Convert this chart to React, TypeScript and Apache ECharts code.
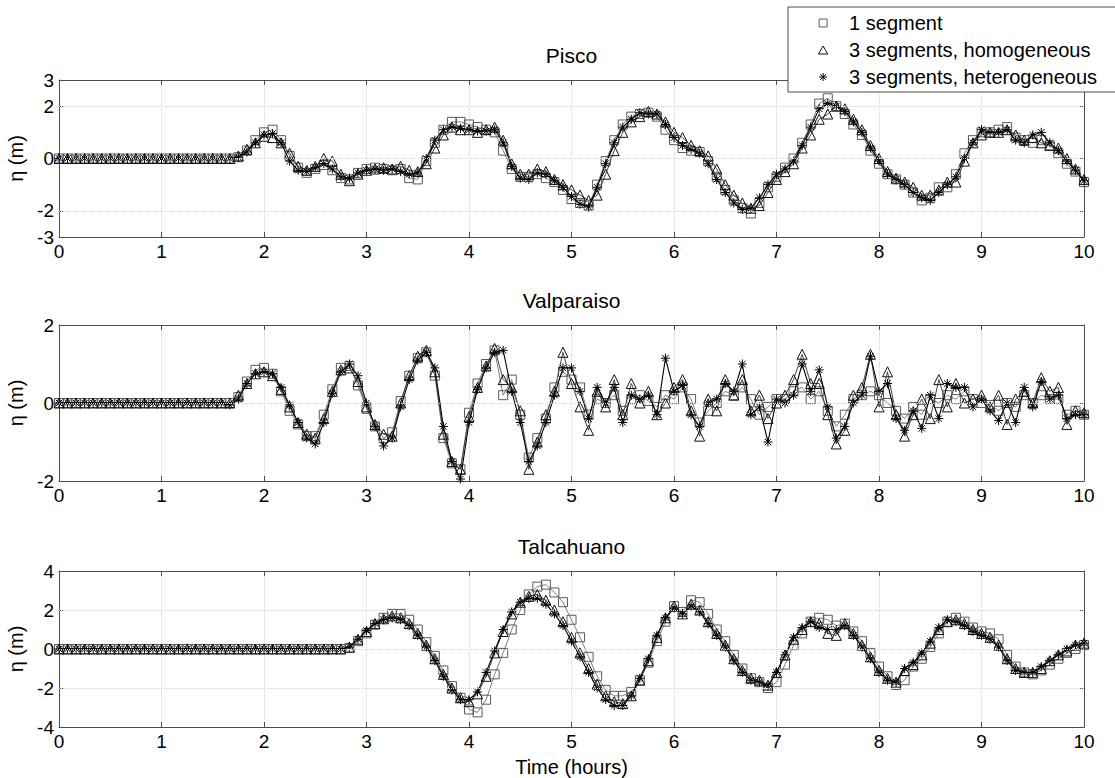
import React, { useEffect, useRef } from "react";
import * as echarts from "echarts";

// sampling step of the plotted markers (5 minutes, in hours)
const STEP_HOURS = 5 / 60;

const SERIES_NAMES = ["1 segment", "3 segments, homogeneous", "3 segments, heterogeneous"];
const STATIONS = ["Pisco", "Valparaiso", "Talcahuano"];

// ---------- Pisco ----------
const PISCO_1SEG = [
  0, 0, 0, 0, 0, 0, 0, 0, 0, 0, 0, 0,
  0, 0, 0, 0, 0, 0, 0, 0, 0, 0.05, 0.3, 0.7,
  1.0, 1.1, 0.7, 0.1, -0.35, -0.55, -0.4, -0.25, -0.45, -0.75, -0.8, -0.55,
  -0.4, -0.35, -0.4, -0.45, -0.4, -0.75, -0.8, -0.1, 0.6, 1.1, 1.4, 1.4,
  1.3, 1.2, 1.1, 1.0, 0.3, -0.4, -0.7, -0.7, -0.6, -0.75, -0.9, -1.2,
  -1.55, -1.7, -1.8, -1.0, -0.1, 0.7, 1.3, 1.6, 1.7, 1.75, 1.6, 1.1,
  0.7, 0.4, 0.3, 0.25, -0.1, -0.7, -1.2, -1.6, -1.9, -2.1, -1.7, -1.1,
  -0.7, -0.35, 0.0, 0.6, 1.3, 2.1, 2.3, 2.0, 1.7, 1.3, 0.9, 0.3,
  -0.2, -0.6, -0.8, -1.0, -1.3, -1.6, -1.5, -1.1, -1.1, -0.6, 0.2, 0.7,
  1.0, 1.0, 1.1, 1.2, 0.8, 0.7, 0.6, 0.7, 0.5, 0.2, -0.2, -0.5,
  -0.9,
];
const PISCO_3HOM = [
  0, 0, 0, 0, 0, 0, 0, 0, 0, 0, 0, 0,
  0, 0, 0, 0, 0, 0, 0, 0, 0, 0.1, 0.35, 0.6,
  0.85, 0.8, 0.6, 0.2, -0.3, -0.45, -0.3, 0.0, -0.1, -0.6, -0.85, -0.6,
  -0.45, -0.4, -0.35, -0.4, -0.3, -0.45, -0.5, -0.2, 0.4, 0.9, 1.2, 1.1,
  1.1, 1.0, 1.1, 1.2, 0.7, -0.2, -0.6, -0.6, -0.4, -0.5, -0.8, -1.0,
  -1.2, -1.4, -1.6, -1.4, -0.6, 0.3, 1.0, 1.4, 1.6, 1.8, 1.7, 1.4,
  1.0, 0.8, 0.5, 0.3, 0.1, -0.4, -1.0, -1.4, -1.7, -1.9, -1.8, -1.3,
  -0.8, -0.5, -0.2, 0.4, 0.9, 1.5, 1.7, 2.0, 1.9, 1.5, 1.1, 0.5,
  0.0, -0.5, -0.75, -0.9, -1.1, -1.4, -1.4, -1.2, -0.9, -0.9, -0.1, 0.6,
  0.9, 1.0, 1.0, 1.1, 0.9, 0.7, 0.8, 0.6, 0.5, 0.4, 0.0, -0.4,
  -0.8,
];
const PISCO_3HET = [
  0, 0, 0, 0, 0, 0, 0, 0, 0, 0, 0, 0,
  0, 0, 0, 0, 0, 0, 0, 0, 0, 0.05, 0.25, 0.6,
  0.9, 0.95, 0.6, -0.1, -0.45, -0.5, -0.35, -0.2, -0.4, -0.7, -0.75, -0.55,
  -0.45, -0.4, -0.45, -0.4, -0.5, -0.6, -0.55, 0.0, 0.7, 1.1, 1.2, 1.15,
  1.1, 1.05, 1.05, 1.1, 0.6, -0.3, -0.75, -0.8, -0.55, -0.6, -0.85, -1.1,
  -1.45, -1.75, -1.85, -1.1, -0.2, 0.6, 1.2, 1.5, 1.75, 1.7, 1.7, 1.3,
  0.8, 0.5, 0.35, 0.2, -0.2, -0.8, -1.3, -1.7, -1.95, -1.9, -1.5, -1.0,
  -0.6, -0.4, -0.1, 0.5, 1.2, 1.9, 2.1, 2.0, 1.8, 1.4, 1.0, 0.4,
  -0.1, -0.6, -0.8, -1.0, -1.3, -1.5, -1.6, -1.3, -1.0, -0.7, 0.0, 0.6,
  1.1, 1.0, 1.0, 1.1, 0.7, 0.6, 0.9, 1.0, 0.6, 0.3, -0.1, -0.45,
  -0.85,
];

// ---------- Valparaiso ----------
const VALPARAISO_1SEG = [
  0, 0, 0, 0, 0, 0, 0, 0, 0, 0, 0, 0,
  0, 0, 0, 0, 0, 0, 0, 0, 0.0, 0.15, 0.55, 0.85,
  0.9, 0.75, 0.3, -0.2, -0.55, -0.85, -0.85, -0.3, 0.35, 0.9, 0.95, 0.45,
  -0.15, -0.6, -0.9, -0.75, 0.05, 0.7, 1.15, 1.3, 0.7, -0.9, -1.55, -1.7,
  -0.25, 0.5, 1.0, 1.35, 0.2, 0.6, -0.3, -1.4, -0.9, -0.4, 0.4, 0.8,
  0.6, 0.4, -0.3, 0.1, 0.0, 0.2, -0.2, 0.1, 0.2, 0.05, -0.1, 0.2,
  0.1, 0.4, 0.1, -0.5, -0.2, 0.0, 0.3, 0.2, 0.4, 0.1, -0.3, -0.1,
  0.1, 0.1, 0.3, 0.4, 0.1, 0.3, -0.2, -0.6, -0.3, 0.1, 0.2, 0.3,
  0.2, 0.0, -0.2, -0.4, -0.1, -0.3, 0.1, 0.0, 0.2, 0.1, 0.3, 0.1,
  0.0, -0.05, -0.2, 0.0, -0.1, 0.2, 0.0, 0.2, 0.1, 0.1, -0.3, -0.2,
  -0.3,
];
const VALPARAISO_3HOM = [
  0, 0, 0, 0, 0, 0, 0, 0, 0, 0, 0, 0,
  0, 0, 0, 0, 0, 0, 0, 0, 0.0, 0.2, 0.5, 0.75,
  0.8, 0.7, 0.35, -0.1, -0.5, -0.8, -0.9, -0.4, 0.3, 0.85, 0.9, 0.55,
  -0.1, -0.55, -0.8, -0.85, 0.0, 0.7, 1.2, 1.35, 0.8, -0.8, -1.5, -1.7,
  -0.35, 0.4, 0.95, 1.4, 0.6, 0.4, -0.2, -1.7, -1.0, -0.3, 0.3, 1.3,
  0.5, -0.1, -0.7, 0.3, -0.1, 0.6, -0.3, 0.5, 0.0, 0.3, -0.3, 0.0,
  0.4, 0.6, -0.2, -0.85, 0.1, -0.2, 0.6, 0.2, 0.6, -0.2, 0.2, -0.4,
  0.0, 0.2, 0.6, 1.25, 0.5, 0.5, -0.3, -1.05, -0.7, 0.2, 0.4, 1.25,
  -0.1, 0.8, -0.3, -0.85, -0.3, 0.1, -0.4, 0.6, -0.1, 0.5, 0.0, 0.1,
  0.2, -0.1, 0.2, -0.55, 0.1, 0.3, 0.0, 0.65, 0.3, 0.4, -0.55, -0.2,
  -0.25,
];
const VALPARAISO_3HET = [
  0, 0, 0, 0, 0, 0, 0, 0, 0, 0, 0, 0,
  0, 0, 0, 0, 0, 0, 0, 0, -0.05, 0.1, 0.5, 0.75,
  0.8, 0.75, 0.4, -0.05, -0.5, -0.9, -1.05, -0.5, 0.25, 0.8, 1.0, 0.7,
  0.0, -0.6, -1.1, -0.9, -0.1, 0.6, 1.1, 1.3, 0.9, -0.6, -1.5, -1.95,
  -0.5, 0.35, 0.9, 1.3, 1.35, 0.3, -0.5, -1.5, -1.1, -0.5, 0.2, 0.9,
  0.9, 0.3, -0.4, 0.4, 0.0, 0.4, -0.5, 0.2, 0.1, 0.2, -0.3, 1.15,
  0.3, 0.45, -0.3, -0.6, 0.0, 0.1, 0.5, 0.3, 1.0, -0.3, -0.1, -1.0,
  0.1, 0.0, 0.2, 1.0, 0.3, 0.85, -0.1, -0.9, -0.6, 0.0, 0.2, 1.2,
  0.3, 0.5, -0.4, -0.7, -0.2, -0.65, 0.2, -0.4, 0.5, 0.4, 0.4, -0.1,
  0.1, -0.2, -0.45, 0.0, -0.5, 0.4, -0.1, 0.55, 0.1, 0.2, -0.4, -0.3,
  -0.3,
];

// ---------- Talcahuano ----------
const TALCAHUANO_1SEG = [
  0, 0, 0, 0, 0, 0, 0, 0, 0, 0, 0, 0,
  0, 0, 0, 0, 0, 0, 0, 0, 0, 0, 0, 0,
  0, 0, 0, 0, 0, 0, 0, 0, 0, 0, 0.05, 0.4,
  0.8, 1.25, 1.6, 1.8, 1.8, 1.5, 1.0, 0.35, -0.35, -1.1, -1.9, -2.5,
  -3.1, -3.25, -2.6, -1.3, -0.2, 1.0, 2.0, 2.8, 3.2, 3.3, 2.9, 2.4,
  1.5, 0.6, -0.4, -1.4, -2.1, -2.4, -2.4, -2.2, -1.6, -0.7, 0.4, 1.4,
  2.2, 1.9, 2.5, 2.4, 1.8, 1.0, 0.4, -0.3, -1.0, -1.5, -1.7, -2.0,
  -1.7, -0.8, 0.2, 0.8, 1.4, 1.6, 1.5, 1.2, 1.3, 0.9, 0.4, -0.2,
  -0.9, -1.4, -1.85, -1.6, -0.9, -0.5, 0.1, 0.8, 1.4, 1.6, 1.4, 1.1,
  0.9, 0.8, 0.5, -0.3, -0.9, -1.2, -1.3, -1.1, -0.8, -0.5, -0.2, 0.0,
  0.2,
];
const TALCAHUANO_3HOM = [
  0, 0, 0, 0, 0, 0, 0, 0, 0, 0, 0, 0,
  0, 0, 0, 0, 0, 0, 0, 0, 0, 0, 0, 0,
  0, 0, 0, 0, 0, 0, 0, 0, 0, 0, 0.1, 0.5,
  0.9, 1.3, 1.55, 1.7, 1.6, 1.3, 0.8, 0.2, -0.5, -1.3, -2.0, -2.5,
  -2.7, -2.3, -1.4, -0.2, 0.9, 1.8, 2.4, 2.7, 2.8, 2.5, 2.0, 1.4,
  0.6, -0.2, -1.0, -1.8, -2.4, -2.7, -2.8, -2.4, -1.6, -0.6, 0.6, 1.6,
  2.2, 1.8, 2.3, 2.0, 1.4, 0.8, 0.2, -0.5, -1.1, -1.5, -1.6, -1.85,
  -1.2, -0.3, 0.5, 1.0, 1.4, 1.3, 0.8, 0.7, 1.3, 0.8, 0.2, -0.4,
  -1.1, -1.5, -1.7, -1.1, -0.8, -0.3, 0.3, 1.0, 1.4, 1.5, 1.3, 1.0,
  0.8, 0.6, 0.2, -0.5, -1.0, -1.2, -1.2, -1.0, -0.6, -0.3, -0.1, 0.2,
  0.3,
];
const TALCAHUANO_3HET = [
  0, 0, 0, 0, 0, 0, 0, 0, 0, 0, 0, 0,
  0, 0, 0, 0, 0, 0, 0, 0, 0, 0, 0, 0,
  0, 0, 0, 0, 0, 0, 0, 0, 0, 0, 0.1, 0.5,
  0.95, 1.3, 1.5, 1.6, 1.5, 1.2, 0.7, 0.1, -0.6, -1.4, -2.1, -2.6,
  -2.6, -2.2, -1.2, -0.1, 1.0, 1.9, 2.4, 2.6, 2.6, 2.3, 1.8, 1.2,
  0.4, -0.4, -1.2, -2.0, -2.6, -2.9, -2.9, -2.4, -1.5, -0.5, 0.7, 1.6,
  2.1, 1.8, 2.2, 1.9, 1.3, 0.7, 0.1, -0.6, -1.2, -1.6, -1.7, -1.9,
  -1.2, -0.3, 0.6, 1.1, 1.4, 1.1, 1.0, 1.0, 1.2, 0.7, 0.1, -0.5,
  -1.2, -1.6, -1.7, -1.0, -0.7, -0.2, 0.4, 1.1, 1.5, 1.4, 1.2, 0.9,
  0.7, 0.5, 0.1, -0.6, -1.1, -1.2, -1.2, -0.9, -0.6, -0.3, 0.0, 0.2,
  0.3,
];

const STATION_DATA = [
  [PISCO_1SEG, PISCO_3HOM, PISCO_3HET],
  [VALPARAISO_1SEG, VALPARAISO_3HOM, VALPARAISO_3HET],
  [TALCAHUANO_1SEG, TALCAHUANO_3HOM, TALCAHUANO_3HET],
];

// axis ranges and tick labels
const X_MIN = 0;
const X_MAX = 10;
const Y_RANGES = [
  { min: -3, max: 3, interval: 1, labels: [-3, -2, 0, 2, 3], grid: [-2, 0, 2] },
  { min: -2, max: 2, interval: 2, labels: [-2, 0, 2], grid: [0] },
  { min: -4, max: 4, interval: 2, labels: [-4, -2, 0, 2, 4], grid: [-2, 0, 2] },
];

const FONT = "'Liberation Sans', Arial, Helvetica, sans-serif";
const AXIS_COLOR = "#4d4d4d";
const GRID_COLOR = "#d4d4d4";

const SQUARE = "path://M0,0L10,0L10,10L0,10Z";
const TRIANGLE = "path://M5,0L10,8.66L0,8.66Z";
const STAR = "path://M5,0L5,10M0,5L10,5M1.46,1.46L8.54,8.54M1.46,8.54L8.54,1.46";

const SERIES_STYLE = [
  { symbol: SQUARE, size: 9, line: "#7f7f7f", lineWidth: 1, mark: "#5a5a5a" },
  { symbol: TRIANGLE, size: 10, line: "#333333", lineWidth: 0.9, mark: "#111111" },
  { symbol: STAR, size: 9, line: "#000000", lineWidth: 1.1, mark: "#000000" },
];

const GRIDS = [
  { left: 59, top: 80, width: 1025, height: 157 },
  { left: 59, top: 325, width: 1025, height: 156 },
  { left: 59, top: 571, width: 1025, height: 156 },
];

function toPairs(values: number[]) {
  return values.map((v, i) => [i * STEP_HOURS, v]);
}

export default function App() {
  const ref = useRef<HTMLDivElement>(null);

  useEffect(() => {
    if (!ref.current) return;
    const chart = echarts.init(ref.current, undefined, { renderer: "svg" });

    const xAxis: any[] = [];
    const yAxis: any[] = [];
    GRIDS.forEach((_, g) => {
      const isLast = g === GRIDS.length - 1;
      xAxis.push({
        type: "value",
        gridIndex: g,
        min: X_MIN,
        max: X_MAX,
        interval: 1,
        position: "bottom",
        axisLine: { show: true, onZero: false, lineStyle: { color: AXIS_COLOR, width: 1 } },
        axisTick: { show: true, inside: true, length: 5, lineStyle: { color: AXIS_COLOR } },
        axisLabel: { show: true, color: "#000", fontSize: 19, fontFamily: FONT, margin: 5 },
        splitLine: { show: true, lineStyle: { color: GRID_COLOR, type: "dotted", width: 1 } },
        name: isLast ? "Time (hours)" : "",
        nameLocation: "middle",
        nameGap: 30,
        nameTextStyle: { color: "#000", fontSize: 20, fontFamily: FONT },
      });
      xAxis.push({
        type: "value",
        gridIndex: g,
        min: X_MIN,
        max: X_MAX,
        interval: 1,
        position: "top",
        axisLine: { show: true, onZero: false, lineStyle: { color: AXIS_COLOR, width: 1 } },
        axisTick: { show: true, inside: true, length: 5, lineStyle: { color: AXIS_COLOR } },
        axisLabel: { show: false },
        splitLine: { show: false },
      });
      const yr = Y_RANGES[g];
      yAxis.push({
        type: "value",
        gridIndex: g,
        min: yr.min,
        max: yr.max,
        interval: yr.interval,
        position: "left",
        axisLine: { show: true, onZero: false, lineStyle: { color: AXIS_COLOR, width: 1 } },
        axisTick: {
          show: true,
          inside: true,
          length: 5,
          customValues: yr.labels,
          lineStyle: { color: AXIS_COLOR },
        },
        axisLabel: {
          show: true,
          color: "#000",
          fontSize: 19,
          fontFamily: FONT,
          margin: 5,
          customValues: yr.labels,
        },
        splitLine: { show: false },
        name: "η (m)",
        nameLocation: "middle",
        nameGap: 22,
        nameRotate: 90,
        nameTextStyle: { color: "#000", fontSize: 20, fontFamily: FONT },
      });
      yAxis.push({
        type: "value",
        gridIndex: g,
        min: yr.min,
        max: yr.max,
        interval: yr.interval,
        position: "right",
        axisLine: { show: true, onZero: false, lineStyle: { color: AXIS_COLOR, width: 1 } },
        axisTick: {
          show: true,
          inside: true,
          length: 5,
          customValues: yr.labels,
          lineStyle: { color: AXIS_COLOR },
        },
        axisLabel: { show: false },
        splitLine: { show: false },
      });
    });

    const series: any[] = [];
    STATION_DATA.forEach((group, g) => {
      // horizontal grid lines through the library's y scale
      series.push({
        type: "line",
        name: "grid-" + g,
        xAxisIndex: g * 2,
        yAxisIndex: g * 2,
        data: [],
        silent: true,
        z: 1,
        markLine: {
          silent: true,
          symbol: ["none", "none"],
          label: { show: false },
          lineStyle: { color: GRID_COLOR, type: "dotted", width: 1 },
          data: Y_RANGES[g].grid.map((v) => ({ yAxis: v })),
        },
      });
      group.forEach((values, s) => {
        const st = SERIES_STYLE[s];
        series.push({
          type: "line",
          name: SERIES_NAMES[s],
          xAxisIndex: g * 2,
          yAxisIndex: g * 2,
          data: toPairs(values),
          symbol: st.symbol,
          symbolSize: st.size,
          showAllSymbol: true,
          z: 2 + s,
          lineStyle: { color: st.line, width: st.lineWidth },
          itemStyle: { color: "rgba(0,0,0,0)", borderColor: st.mark, borderWidth: 1 },
          emphasis: { disabled: true },
          silent: true,
        });
      });
    });

    const legendIcons = [SQUARE, TRIANGLE, STAR];
    const option: any = {
      animation: false,
      backgroundColor: "#fff",
      grid: GRIDS.map((gr) => ({ ...gr, containLabel: false, outerBoundsMode: "none" })),
      xAxis,
      yAxis,
      series,
      legend: {
        orient: "vertical",
        left: 788,
        top: 7,
        padding: [6, 36, 5, 30],
        itemGap: 7,
        itemWidth: 42,
        itemHeight: 8,
        symbolKeepAspect: true,
        backgroundColor: "#fff",
        borderColor: AXIS_COLOR,
        borderWidth: 1,
        borderRadius: 0,
        selectedMode: false,
        z: 10,
        textStyle: { color: "#000", fontSize: 20, fontFamily: FONT, lineHeight: 20 },
        data: SERIES_NAMES.map((n, i) => ({
          name: n,
          icon: legendIcons[i],
          itemStyle: {
            color: "rgba(0,0,0,0)",
            borderColor: SERIES_STYLE[i].mark,
            borderWidth: 1,
          },
        })),
      },
      graphic: STATIONS.map((name, g) => ({
        type: "text",
        x: GRIDS[g].left + GRIDS[g].width / 2,
        y: GRIDS[g].top - 25,
        silent: true,
        style: {
          text: name,
          fill: "#000",
          fontSize: 21,
          fontFamily: FONT,
          align: "center",
          verticalAlign: "middle",
        },
      })),
    };

    chart.setOption(option);
    return () => chart.dispose();
  }, []);

  return (
    <div
      ref={ref}
      style={{ position: "fixed", left: 0, top: 0, width: 1115, height: 778, background: "#fff" }}
    />
  );
}
